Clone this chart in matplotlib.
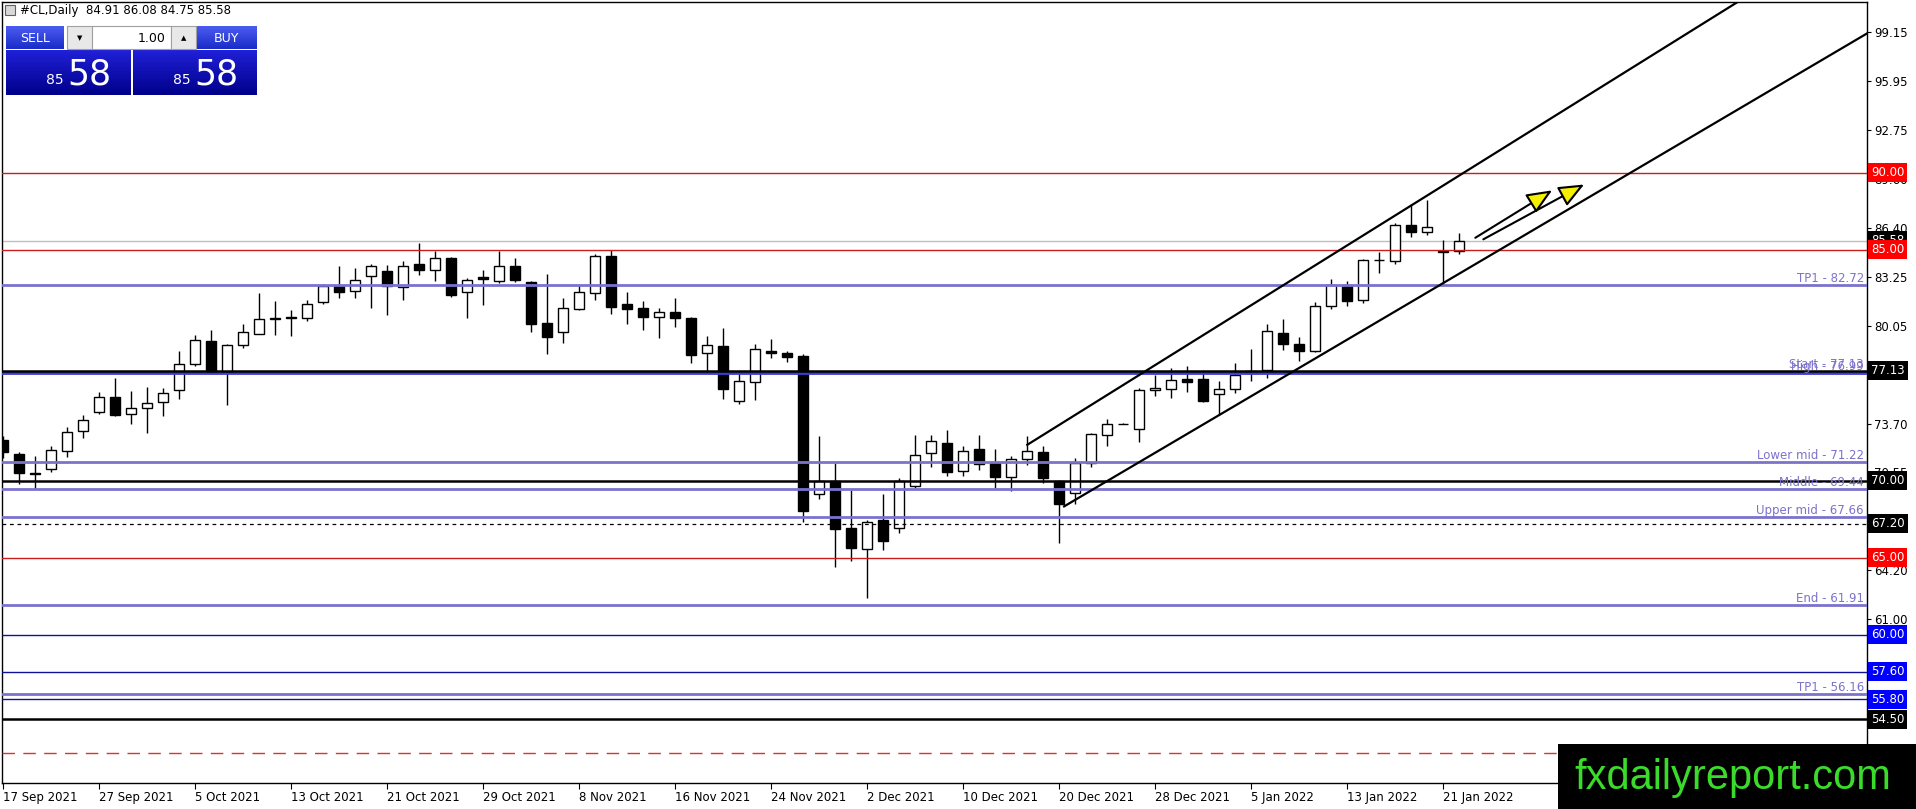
import numpy as np
import matplotlib
matplotlib.use("Agg")
import matplotlib.pyplot as plt
import matplotlib.transforms as mtransforms
from matplotlib.patches import Rectangle
from matplotlib.colors import LinearSegmentedColormap

plt.rcParams['font.family'] = ['DejaVu Sans']
plt.rcParams['font.size'] = 8.5

# ---- daily candles #CL, 17 Sep 2021 .. 24 Jan 2022 ----
opens = [72.61, 71.76, 70.45, 70.74, 71.93, 73.24, 74.43, 75.41, 74.35, 74.74,
         75.10, 75.91, 77.60, 79.05, 77.05, 78.83, 79.55, 80.50, 80.60, 80.59,
         81.60, 82.63, 82.34, 83.32, 83.60, 82.58, 84.06, 83.69, 84.43, 82.28,
         83.20, 82.97, 83.93, 82.90, 80.26, 79.66, 81.12, 82.18, 84.58, 81.44,
         81.24, 80.63, 80.92, 80.53, 78.31, 78.76, 75.17, 76.41, 78.42, 78.27,
         78.07, 69.14, 70.00, 66.90, 65.54, 67.45, 66.93, 69.64, 71.78, 72.46,
         70.64, 72.03, 71.13, 70.22, 71.42, 71.87, 70.00, 69.20, 71.15, 72.98,
         73.70, 73.37, 75.90, 75.97, 76.58, 76.62, 75.64, 75.97, 77.00, 77.16,
         79.60, 78.90, 78.42, 81.35, 82.69, 81.76, 84.30, 84.27, 86.58, 86.13,
         84.90, 84.91]
highs = [72.90, 71.85, 71.57, 72.28, 73.48, 74.24, 75.75, 76.64, 75.80, 76.08,
         76.01, 78.40, 79.48, 79.77, 78.90, 80.16, 82.19, 81.65, 81.07, 81.70,
         82.74, 83.95, 83.78, 84.10, 84.00, 84.26, 85.45, 84.91, 84.50, 83.17,
         83.71, 84.91, 84.43, 82.95, 83.41, 81.83, 82.69, 84.69, 84.97, 82.26,
         81.65, 81.18, 81.83, 80.65, 79.37, 79.94, 77.05, 78.85, 79.22, 78.40,
         78.20, 72.87, 71.13, 69.40, 67.47, 69.14, 70.15, 72.98, 72.98, 73.32,
         72.28, 72.98, 72.03, 71.59, 72.91, 72.22, 70.05, 71.48, 73.10, 73.98,
         73.75, 76.04, 76.84, 77.31, 77.42, 77.12, 76.45, 77.64, 78.57, 80.20,
         80.48, 79.36, 81.60, 83.08, 82.95, 84.42, 84.86, 86.70, 87.96, 88.22,
         85.62, 86.08]
lows = [71.50, 69.79, 69.47, 70.55, 71.52, 72.76, 74.35, 74.20, 73.70, 73.08,
        74.20, 75.30, 77.44, 76.90, 74.93, 78.61, 79.50, 79.44, 79.37, 80.35,
        81.45, 81.83, 81.83, 81.22, 80.74, 81.72, 83.34, 82.97, 81.90, 80.59,
        81.39, 82.84, 82.90, 79.66, 78.25, 78.94, 81.10, 81.76, 80.79, 80.20,
        79.81, 79.27, 79.98, 77.64, 77.05, 75.32, 74.95, 75.21, 77.96, 77.70,
        67.29, 68.82, 64.37, 64.76, 62.37, 65.52, 66.60, 69.50, 70.87, 70.29,
        70.29, 70.70, 69.50, 69.30, 71.00, 69.85, 65.93, 68.49, 70.87, 72.24,
        73.65, 72.50, 75.49, 75.35, 75.75, 75.10, 74.28, 75.70, 76.45, 76.68,
        78.50, 77.77, 78.35, 81.14, 81.35, 81.55, 83.50, 84.06, 85.80, 85.92,
        82.80, 84.75]
closes = [71.85, 70.48, 70.50, 71.96, 73.19, 73.95, 75.41, 74.26, 74.74, 75.06,
          75.71, 77.60, 79.12, 77.05, 78.83, 79.64, 80.48, 80.55, 80.55, 81.44,
          82.63, 82.26, 83.06, 83.93, 82.65, 83.97, 83.67, 84.43, 82.04, 83.06,
          83.10, 83.93, 83.00, 80.20, 79.33, 81.18, 82.22, 84.58, 81.28, 81.17,
          80.63, 80.92, 80.56, 78.16, 78.83, 75.97, 76.45, 78.53, 78.32, 78.05,
          68.05, 69.96, 66.84, 65.60, 67.32, 66.10, 70.00, 71.68, 72.59, 70.55,
          71.94, 71.09, 70.22, 71.42, 71.94, 70.15, 68.49, 71.15, 73.00, 73.69,
          73.70, 75.91, 76.00, 76.56, 76.40, 75.17, 75.97, 76.88, 77.10, 79.70,
          78.90, 78.42, 81.33, 82.69, 81.67, 84.32, 84.35, 86.60, 86.16, 86.45,
          84.85, 85.58]

date_pos = [0, 6, 12, 18, 24, 30, 36, 42, 48, 54, 60, 66, 72, 78, 84, 90]
date_labels = ['17 Sep 2021', '27 Sep 2021', '5 Oct 2021', '13 Oct 2021',
               '21 Oct 2021', '29 Oct 2021', '8 Nov 2021', '16 Nov 2021',
               '24 Nov 2021', '2 Dec 2021', '10 Dec 2021', '20 Dec 2021',
               '28 Dec 2021', '5 Jan 2022', '13 Jan 2022', '21 Jan 2022']

price_ticks = [99.15, 95.95, 92.75, 89.60, 86.40, 83.25, 80.05, 76.90,
               73.70, 70.55, 67.35, 64.20, 61.00, 57.85, 54.65]

# fibo style levels drawn in slate blue
fib_levels = [82.72, 77.13, 76.99, 71.22, 69.44, 67.66, 61.91, 56.16]
fib_names = ['TP1', 'Start', 'High', 'Lower mid', 'Middle', 'Upper mid', 'End', 'TP1']

red_levels = [90.00, 85.00, 65.00]
black_levels = [77.13, 70.00, 54.50]
navy_levels = [60.00, 57.60, 55.80]
dotted_level = 67.20
bid_level = 85.58
red_dash_level = 52.34

# trend channel (bar index, price)
chan_upper = [(64.0, 72.33), (110.0, 102.12)]
chan_lower = [(66.3, 68.33), (116.5, 99.05)]

# yellow arrows (start -> end)
arrows = [((92.0, 85.77), (96.8, 88.85)),
          ((92.5, 85.67), (98.8, 89.23))]

header = '#CL,Daily  84.91 86.08 84.75 85.58'

W, H = 1916, 809
fig = plt.figure(figsize=(W / 100, H / 100), dpi=100)
fig.patch.set_facecolor('white')
ax = fig.add_axes([2 / W, 26 / H, 1865 / W, 781 / H])
ax.set_facecolor('white')

o = np.array(opens)
c = np.array(closes)
hi = np.array(highs)
lo = np.array(lows)
x = np.arange(len(o))
up = c >= o

ax.vlines(x, lo, hi, color='black', lw=1.0, zorder=3)
ax.bar(x[up], (c - o)[up], bottom=o[up], width=0.62, color='white',
       edgecolor='black', lw=1.0, zorder=4)
ax.bar(x[~up], (o - c)[~up], bottom=c[~up], width=0.62, color='black',
       edgecolor='black', lw=1.0, zorder=4)

slate = '#7B72CC'
ax.axhline(bid_level, color='#C0C0C0', lw=1.0, zorder=2)
for lv in red_levels:
    ax.axhline(lv, color='#C81E1E', lw=1.0, zorder=5)
ax.axhline(red_dash_level, color='#E03030', lw=1.0, ls=(0, (9, 6)), zorder=5)
for lv, nm in zip(fib_levels, fib_names):
    col = '#3B3BD6' if nm == 'High' else slate
    if nm != 'Start':
        ax.axhline(lv, color=col, lw=2.0, zorder=5)
for lv in navy_levels:
    ax.axhline(lv, color='#10109A', lw=1.0, zorder=5)
for lv in black_levels:
    ax.axhline(lv, color='black', lw=1.8, zorder=6)
ax.axhline(dotted_level, color='black', lw=0.9, ls=(0, (3, 3)), zorder=5)

for p0, p1 in (chan_upper, chan_lower):
    ax.plot([p0[0], p1[0]], [p0[1], p1[1]], color='black', lw=1.6, zorder=7)

for (x0, y0), (x1, y1) in arrows:
    ax.annotate('', xy=(x1, y1), xytext=(x0, y0),
                arrowprops=dict(arrowstyle='-|>,head_length=1.3,head_width=0.55',
                                fc='#F5F000', ec='black', lw=1.5,
                                shrinkA=0, shrinkB=0, mutation_scale=12),
                zorder=8)

ax.set_xlim(-0.08, 116.48)
ax.set_ylim(50.37, 101.08)

# axes styling
for s in ax.spines.values():
    s.set_color('black')
    s.set_linewidth(1.0)
ax.yaxis.tick_right()
ax.set_yticks(price_ticks)
ax.set_yticklabels([f'{v:.2f}' for v in price_ticks])
ax.tick_params(axis='y', direction='out', length=3, width=0.8, pad=2,
               labelsize=8.5, colors='black')
ax.set_xticks(date_pos)
ax.set_xticklabels(date_labels)
ax.tick_params(axis='x', direction='out', length=4, width=0.8, pad=2,
               labelsize=8.5)
for lbl in ax.get_xticklabels():
    lbl.set_ha('left')

trans = mtransforms.blended_transform_factory(ax.transAxes, ax.transData)

# labels on the right edge of the plot
for lv, nm in zip(fib_levels, fib_names):
    ax.text(1 - 3 / 1865, lv, f'{nm} - {lv:.2f}', transform=trans, ha='right',
            va='bottom', color=slate, fontsize=8.5, zorder=9)

# price boxes on the axis
box_levels = [90.00, bid_level, 85.00, 77.13, 70.00, dotted_level, 65.00,
              60.00, 57.60, 55.80, 54.50]
box_colors = ['#FF0000', 'black', '#FF0000', 'black', 'black', 'black',
              '#FF0000', '#0000FF', '#0000FF', '#0000FF', 'black']
for lv, bc in zip(box_levels, box_colors):
    ax.text(1 + 4 / 1865, lv, f'{lv:.2f}', transform=trans, ha='left',
            va='center', color='white', fontsize=8.5, clip_on=False, zorder=10,
            bbox=dict(boxstyle='square,pad=0.25', fc=bc, ec='none'))

# ---- overlay: trade panel, header, logo (pixel coords) ----
ov = fig.add_axes([0, 0, 1, 1], zorder=10)
ov.patch.set_visible(False)
ov.axis('off')

ov.text(20, 10, header, ha='left', va='center', fontsize=8.5, color='black')
ov.add_patch(Rectangle((5, 5), 10, 10, fc='#D8D8D8', ec='#606060', lw=0.8))

btn = LinearSegmentedColormap.from_list('btn', ['#4A5CF0', '#1A2CC8'])
box = LinearSegmentedColormap.from_list('box', ['#2020D8', '#00008A'])
grad = np.linspace(0, 1, 50).reshape(-1, 1)
ov.imshow(grad, extent=(6, 64, 49, 26), cmap=btn, aspect='auto')
ov.imshow(grad, extent=(196, 257, 49, 26), cmap=btn, aspect='auto')
ov.add_patch(Rectangle((67, 26), 25, 23, fc='#E8E8E8', ec='#A0A0A0', lw=0.8))
ov.add_patch(Rectangle((92, 26), 79, 23, fc='white', ec='#A0A0A0', lw=0.8))
ov.add_patch(Rectangle((171, 26), 25, 23, fc='#E8E8E8', ec='#A0A0A0', lw=0.8))
ov.text(35, 38, 'SELL', ha='center', va='center', color='white', fontsize=9)
ov.text(226, 38, 'BUY', ha='center', va='center', color='white', fontsize=9)
ov.text(166, 38, '1.00', ha='right', va='center', color='black', fontsize=9)
ov.text(79.5, 38, '\u25BC', ha='center', va='center', color='black', fontsize=5)
ov.text(183.5, 38, '\u25B2', ha='center', va='center', color='black', fontsize=5)
for bx0, bx1 in [(6, 131), (133, 257)]:
    ov.imshow(grad, extent=(bx0, bx1, 95, 50), cmap=box, aspect='auto')
    ov.text(bx0 + 58, 84, '85', ha='right', va='baseline', color='white',
            fontsize=10)
    ov.text(bx0 + 61, 84, '58', ha='left', va='baseline', color='white',
            fontsize=25)

ov.add_patch(Rectangle((1558, 744), 358, 65, fc='black', ec='none'))
ov.text(1733, 778, 'fxdailyreport.com', ha='center', va='center',
        color='#3ADB2A', fontsize=30, family='Liberation Sans')

ov.set_xlim(0, W)
ov.set_ylim(H, 0)

fig.savefig('out.png', dpi=100, facecolor='white')
